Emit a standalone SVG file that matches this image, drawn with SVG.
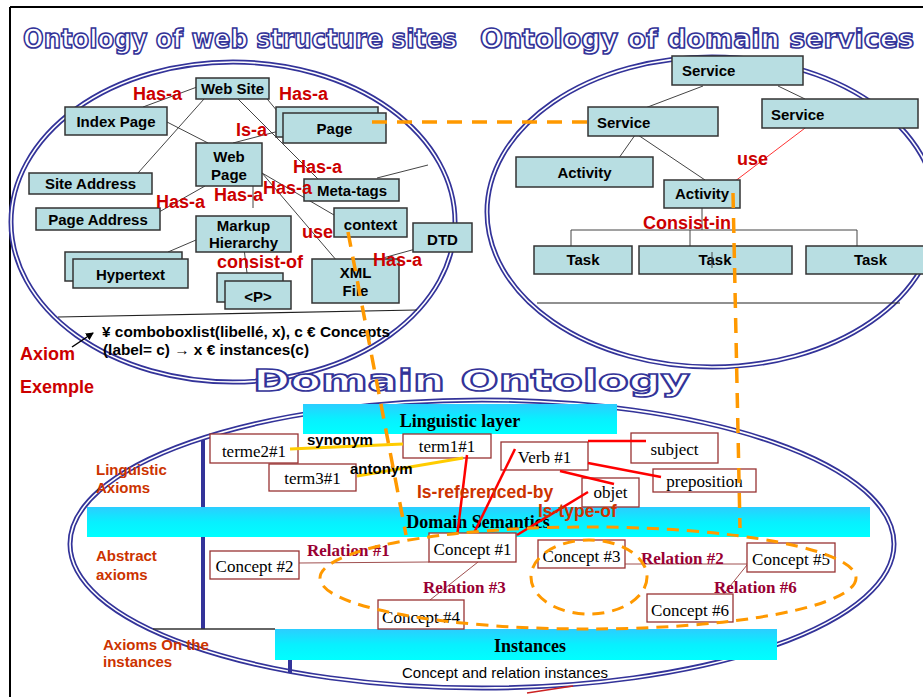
<svg xmlns="http://www.w3.org/2000/svg" width="923" height="697" viewBox="0 0 923 697">
<defs>
<style>
.ell{fill:none;stroke:#333399;stroke-width:5}
.ellw{fill:none;stroke:#fff;stroke-width:1.6}
.title{font-family:"DejaVu Sans",sans-serif;font-weight:bold;fill:#fff;stroke:#333399;stroke-width:1.7}
.nb{fill:#b8dee2;stroke:#333;stroke-width:1.5}
.nt{font-family:"Liberation Sans",Arial,sans-serif;font-weight:bold;font-size:15px;fill:#000;text-anchor:middle}
.ns{font-family:"Liberation Sans",Arial,sans-serif;font-weight:bold;font-size:15px;fill:#000}
.rl{font-family:"Liberation Sans",Arial,sans-serif;font-weight:bold;font-size:18px;fill:#cc0000}
.gl{stroke:#444;stroke-width:1;fill:none}
.tb{fill:#fff;stroke:#993333;stroke-width:1.3}
.tt{font-family:"Liberation Serif","Times New Roman",serif;font-size:17px;fill:#000;text-anchor:middle}
.bt{font-family:"Liberation Serif","Times New Roman",serif;font-weight:bold;font-size:18px;fill:#000;text-anchor:middle}
.ol{font-family:"Liberation Sans",Arial,sans-serif;font-weight:bold;font-size:15px;fill:#cc3300}
.ol2{font-family:"Liberation Sans",Arial,sans-serif;font-weight:bold;font-size:17.5px;fill:#cc3300}
.rel{font-family:"Liberation Serif","Times New Roman",serif;font-weight:bold;font-size:17px;fill:#990033}
.bk{font-family:"Liberation Sans",Arial,sans-serif;font-weight:bold;font-size:15px;fill:#000}
.dash{stroke:#ff9900;stroke-width:3.5;stroke-dasharray:15 10;fill:none}
.dash2{stroke:#ff9900;stroke-width:3;stroke-dasharray:12 8;fill:none}
.red{stroke:#ff0000;stroke-width:2.5;fill:none}
.yel{stroke:#ffcc00;stroke-width:3;fill:none}
.rell{stroke:#a05050;stroke-width:1;fill:none}
.blue{stroke:#333399;stroke-width:4;fill:none}
</style>
<linearGradient id="cy" x1="0" y1="0" x2="0" y2="1">
<stop offset="0" stop-color="#2ccdff"/>
<stop offset="0.5" stop-color="#08f0ff"/>
<stop offset="1" stop-color="#00ffff"/>
</linearGradient>
<marker id="ah" markerWidth="8" markerHeight="8" refX="7" refY="4" orient="auto" markerUnits="userSpaceOnUse">
<path d="M0,0 L8,4 L0,8 Z" fill="#000"/>
</marker>
</defs>
<rect x="0" y="0" width="923" height="697" fill="#fff"/>
<g id="frame">
<line x1="10" y1="7" x2="923" y2="7" stroke="#000" stroke-width="2"/>
<line x1="10" y1="7" x2="10" y2="697" stroke="#000" stroke-width="2"/>
</g>

<g id="containers">
<ellipse class="ell" cx="233" cy="222" rx="222" ry="160"/>
<ellipse class="ellw" cx="233" cy="222" rx="222" ry="160"/>
<ellipse class="ell" cx="712" cy="212" rx="225" ry="155"/>
<ellipse class="ellw" cx="712" cy="212" rx="225" ry="155"/>
<ellipse class="ell" cx="482" cy="544" rx="412" ry="144"/>
<ellipse class="ellw" cx="482" cy="544" rx="412" ry="144"/>
<line x1="58" y1="317" x2="417" y2="310" stroke="#222" stroke-width="1.2"/>
<line x1="537" y1="303" x2="900" y2="303" stroke="#222" stroke-width="1.2"/>
<line class="blue" x1="203" y1="440" x2="203" y2="629"/>
<line x1="153" y1="629" x2="275" y2="629" stroke="#333" stroke-width="1.5"/>
<line class="blue" x1="290" y1="660" x2="290" y2="673"/>
</g>

<g id="titles">
<text class="title" x="23" y="48" font-size="27" textLength="434" lengthAdjust="spacingAndGlyphs">Ontology of web structure sites</text>
<text class="title" x="480" y="48" font-size="27" textLength="434" lengthAdjust="spacingAndGlyphs">Ontology of domain services</text>
<text class="title" x="253" y="391" font-size="31" textLength="437" lengthAdjust="spacingAndGlyphs">Domain Ontology</text>
</g>

<g id="connectors">
<line class="gl" x1="197" y1="87" x2="143" y2="107"/>
<line class="gl" x1="204" y1="99" x2="138" y2="173"/>
<line class="gl" x1="238" y1="99" x2="318" y2="179"/>
<line class="gl" x1="263" y1="94" x2="283" y2="118"/>
<line class="gl" x1="167" y1="122" x2="208" y2="143"/>
<line class="gl" x1="233" y1="143" x2="283" y2="130"/>
<line class="gl" x1="377" y1="178" x2="428" y2="165"/>
<line class="gl" x1="262" y1="173" x2="334" y2="215"/>
<line class="gl" x1="262" y1="173" x2="343" y2="268"/>
<line class="gl" x1="253" y1="186" x2="253" y2="208"/>
<line class="gl" x1="205" y1="186" x2="152" y2="216"/>
<line class="gl" x1="203" y1="237" x2="168" y2="252"/>
<line class="gl" x1="243" y1="240" x2="247" y2="273"/>
<line class="gl" x1="430" y1="245" x2="383" y2="258"/>
<line class="gl" x1="703" y1="86" x2="632" y2="113"/>
<line class="gl" x1="778" y1="86" x2="805" y2="99"/>
<line class="gl" x1="640" y1="128" x2="614" y2="165"/>
<line class="gl" x1="638" y1="135" x2="705" y2="180"/>
<line x1="813" y1="122" x2="726" y2="188" stroke="#ff3333" stroke-width="1"/>
<line class="gl" x1="702" y1="208" x2="702" y2="230"/>
<line class="gl" x1="571" y1="230" x2="857" y2="230"/>
<line class="gl" x1="571" y1="230" x2="571" y2="246"/>
<line class="gl" x1="690" y1="230" x2="690" y2="246"/>
<line class="gl" x1="857" y1="230" x2="857" y2="246"/>
<line x1="72" y1="347" x2="93" y2="333" stroke="#000" stroke-width="1.5" marker-end="url(#ah)"/>
<line class="rell" x1="299" y1="563" x2="429" y2="562"/>
<line class="rell" x1="478" y1="562" x2="430" y2="600"/>
<line class="rell" x1="625" y1="564" x2="747" y2="564"/>
<line class="rell" x1="747" y1="565" x2="718" y2="601"/>
</g>

<g id="n-website"><rect class="nb" x="196" y="78" width="73" height="21"/><text class="nt" x="232.5" y="94">Web Site</text></g>
<g id="n-index"><rect class="nb" x="65" y="107" width="102" height="28"/><text class="nt" x="116" y="127">Index Page</text></g>
<g id="n-page"><rect class="nb" x="276" y="107" width="102" height="30"/><rect class="nb" x="283" y="113" width="103" height="30"/><text class="nt" x="334.5" y="134">Page</text></g>
<g id="n-webpage"><rect class="nb" x="196" y="143" width="66" height="43"/><text class="nt" x="229" y="162">Web</text><text class="nt" x="229" y="180">Page</text></g>
<g id="n-siteaddr"><rect class="nb" x="29" y="173" width="123" height="21"/><text class="nt" x="90.5" y="189">Site Address</text></g>
<g id="n-metatags"><rect class="nb" x="304" y="179" width="95" height="22"/><text class="nt" x="352" y="196">Meta-tags</text></g>
<g id="n-pageaddr"><rect class="nb" x="36" y="208" width="124" height="22"/><text class="nt" x="98" y="225">Page Address</text></g>
<g id="n-markup"><rect class="nb" x="196" y="216" width="95" height="36"/><text class="nt" x="243.5" y="231">Markup</text><text class="nt" x="243.5" y="248">Hierarchy</text></g>
<g id="n-hypertext"><rect class="nb" x="65" y="252" width="117" height="29"/><rect class="nb" x="73" y="259" width="115" height="29"/><text class="nt" x="130.5" y="280">Hypertext</text></g>
<g id="n-p"><rect class="nb" x="217" y="273" width="66" height="29"/><rect class="nb" x="225" y="281" width="66" height="28"/><text class="nt" x="258" y="302">&lt;P&gt;</text></g>
<g id="n-context"><rect class="nb" x="334" y="208" width="73" height="29"/><text class="nt" x="370.5" y="230">context</text></g>
<g id="n-dtd"><rect class="nb" x="413" y="223" width="59" height="29"/><text class="nt" x="442.5" y="245">DTD</text></g>
<g id="n-xml"><rect class="nb" x="312" y="259" width="87" height="44"/><text class="nt" x="355.5" y="278">XML</text><text class="nt" x="355.5" y="296">File</text></g>

<g id="n-service0"><rect class="nb" x="672" y="56" width="131" height="29"/><text class="ns" x="682" y="76">Service</text></g>
<g id="n-service1"><rect class="nb" x="588" y="107" width="130" height="29"/><text class="ns" x="597" y="128">Service</text></g>
<g id="n-service2"><rect class="nb" x="762" y="99" width="156" height="29"/><text class="ns" x="771" y="120">Service</text></g>
<g id="n-activity1"><rect class="nb" x="516" y="157" width="137" height="30"/><text class="nt" x="584.5" y="178">Activity</text></g>
<g id="n-activity2"><rect class="nb" x="664" y="180" width="76" height="28"/><text class="ns" x="675" y="199">Activity</text></g>
<g id="n-task1"><rect class="nb" x="534" y="246" width="98" height="28"/><text class="nt" x="583" y="265">Task</text></g>
<g id="n-task2"><rect class="nb" x="639" y="246" width="153" height="28"/><text class="nt" x="715" y="265">Task</text><line class="gl" x1="712" y1="252" x2="712" y2="268"/></g>
<g id="n-task3"><rect class="nb" x="806" y="246" width="120" height="28"/><text class="nt" x="870.5" y="265">Task</text></g>

<g id="axiom">
<text class="bk" x="102" y="337" font-size="14" textLength="288" lengthAdjust="spacingAndGlyphs">¥ comboboxlist(libellé, x), c € Concepts</text>
<text class="bk" x="103" y="355" font-size="14" textLength="206" lengthAdjust="spacingAndGlyphs">(label= c) → x € instances(c)</text>
<text class="rl" x="20" y="360" font-size="17">Axiom</text>
<text class="rl" x="20" y="393" font-size="17">Exemple</text>
</g>

<g id="top-labels">
<text class="rl" x="133" y="100">Has-a</text>
<text class="rl" x="279" y="100">Has-a</text>
<text class="rl" x="236" y="136">Is-a</text>
<text class="rl" x="293" y="173">Has-a</text>
<text class="rl" x="214" y="201">Has-a</text>
<text class="rl" x="263" y="194">Has-a</text>
<text class="rl" x="156" y="208">Has-a</text>
<text class="rl" x="302" y="238">use</text>
<text class="rl" x="217" y="268" font-size="17">consist-of</text>
<text class="rl" x="373" y="266">Has-a</text>
<text class="rl" x="737" y="165">use</text>
<text class="rl" x="643" y="229" font-size="17">Consist-in</text>
</g>

<g id="bars">
<g id="b-linguistic"><rect x="303" y="404" width="314" height="30" fill="url(#cy)"/><text class="bt" x="460" y="427">Linguistic layer</text></g>
<g id="b-semantics"><rect x="87" y="507" width="783" height="30" fill="url(#cy)"/><text class="bt" x="478" y="528">Domain Semantics</text></g>
<g id="b-instances"><rect x="275" y="629" width="502" height="31" fill="url(#cy)"/><text class="bt" x="530" y="652">Instances</text></g>
<text x="505" y="678" font-family="Liberation Sans, Arial, sans-serif" font-size="15" text-anchor="middle" fill="#000">Concept and relation instances</text>
</g>

<g id="side-labels">
<text class="ol" x="96" y="475">Linguistic</text>
<text class="ol" x="96" y="493">Axioms</text>
<text class="ol" x="96" y="561">Abstract</text>
<text class="ol" x="96" y="580">axioms</text>
<text class="ol" x="103" y="650">Axioms On the</text>
<text class="ol" x="103" y="667">instances</text>
</g>

<g id="terms">
<g id="t-terme2"><rect class="tb" x="210" y="434" width="88" height="29"/><text class="tt" x="254" y="457">terme2#1</text></g>
<g id="t-term3"><rect class="tb" x="269" y="464" width="87" height="27"/><text class="tt" x="312.5" y="484">term3#1</text></g>
<g id="t-term1"><rect class="tb" x="403" y="434" width="88" height="24"/><text class="tt" x="447" y="452">term1#1</text></g>
<g id="t-verb"><rect class="tb" x="501" y="442" width="87" height="28"/><text class="tt" x="544.5" y="463">Verb #1</text></g>
<g id="t-subject"><rect class="tb" x="631" y="433" width="87" height="30"/><text class="tt" x="674.5" y="455">subject</text></g>
<g id="t-preposition"><rect class="tb" x="653" y="469" width="103" height="23"/><text class="tt" x="704.5" y="487">preposition</text></g>
<g id="t-objet"><rect class="tb" x="582" y="478" width="57" height="29"/><text class="tt" x="610.5" y="498">objet</text></g>
</g>

<g id="ling-links">
<line class="yel" x1="290" y1="449" x2="403" y2="444"/>
<line class="yel" x1="357" y1="476" x2="463" y2="458"/>
<line class="red" x1="467" y1="455" x2="457" y2="537"/>
<line class="red" x1="515" y1="449" x2="473" y2="535"/>
<line class="red" x1="588" y1="441" x2="646" y2="441"/>
<line class="red" x1="588" y1="463" x2="661" y2="477"/>
<line class="red" x1="560" y1="471" x2="614" y2="484"/>
<line class="red" x1="588" y1="492" x2="517" y2="535"/>
<text class="bk" x="307" y="445">synonym</text>
<text class="bk" x="350" y="474">antonym</text>
<text class="ol2" x="417" y="498">Is-referenced-by</text>
<text class="ol2" x="538" y="517">Is-type-of</text>
</g>

<g id="concepts">
<g id="c1"><rect class="tb" x="429" y="533" width="87" height="29"/><text class="tt" x="472.5" y="555">Concept #1</text></g>
<g id="c2"><rect class="tb" x="210" y="551" width="89" height="28"/><text class="tt" x="254.5" y="572">Concept #2</text></g>
<g id="c3"><rect class="tb" x="538" y="540" width="87" height="28"/><text class="tt" x="581.5" y="562">Concept #3</text></g>
<g id="c4"><rect class="tb" x="378" y="600" width="86" height="29"/><text class="tt" x="421" y="623">Concept #4</text></g>
<g id="c5"><rect class="tb" x="747" y="543" width="88" height="29"/><text class="tt" x="791" y="565">Concept #5</text></g>
<g id="c6"><rect class="tb" x="647" y="594" width="86" height="28"/><text class="tt" x="690" y="616">Concept #6</text></g>
<text class="rel" x="307" y="556">Relation #1</text>
<text class="rel" x="423" y="593">Relation #3</text>
<text class="rel" x="641" y="564">Relation #2</text>
<text class="rel" x="714" y="593">Relation #6</text>
</g>

<g id="orange-links">
<line class="dash" x1="372" y1="122" x2="592" y2="122"/>
<line class="dash" x1="348" y1="232" x2="406" y2="535"/>
<line class="dash" x1="733" y1="193" x2="740" y2="528"/>
<ellipse class="dash2" cx="588" cy="578" rx="268" ry="51"/>
<ellipse class="dash2" cx="589" cy="577" rx="58" ry="37"/>
</g>
<line x1="527" y1="693" x2="573" y2="686" stroke="#cc2222" stroke-width="1.5"/>
</svg>
